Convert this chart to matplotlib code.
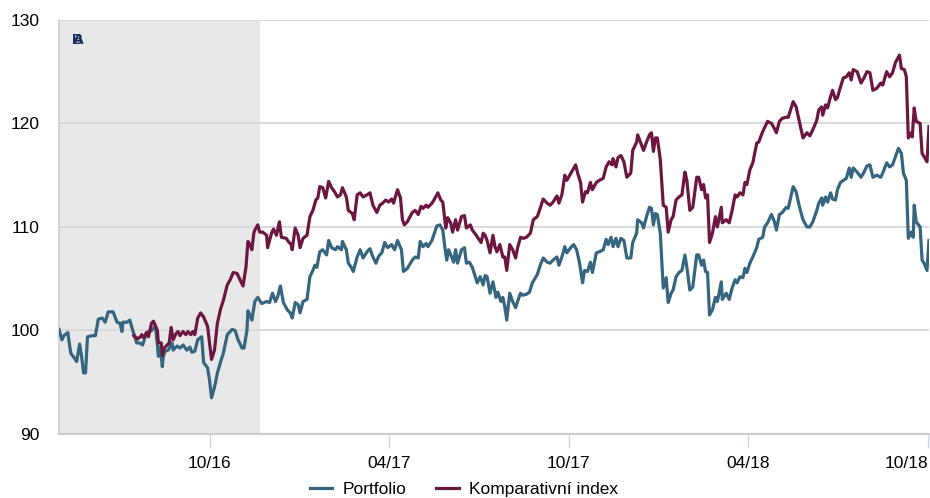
import matplotlib

matplotlib.use("Agg")
import matplotlib.dates as mdates
import matplotlib.pyplot as plt
import pandas as pd

# data: days since start date
start_date = "2016-05-01"
shade_end = "2016-11-21"
tick_dates = ["2016-10-01", "2017-04-01", "2017-10-01", "2018-04-01", "2018-10-01"]

portfolio_days = [
    0, 3, 5, 9, 12, 16, 18, 21, 23, 25, 27, 29, 34, 37, 40, 44, 47, 50, 55, 59,
    62, 64, 65, 69, 72, 75, 79, 82, 85, 89, 92, 94, 98, 100, 101, 103, 105, 106,
    108, 111, 115, 116, 120, 123, 126, 130, 133, 135, 138, 141, 145, 147, 151,
    153, 155, 158, 161, 164, 167, 171, 174, 176, 179, 182, 186, 188, 191, 192,
    194, 196, 199, 202, 206, 211, 214, 217, 220, 222, 225, 228, 232, 235, 237,
    240, 243, 245, 248, 252, 255, 258, 260, 262, 265, 268, 272, 274, 277, 281,
    283, 287, 288, 292, 294, 297, 299, 303, 306, 309, 313, 316, 319, 322, 325,
    328, 331, 334, 338, 341, 344, 348, 350, 354, 359, 362, 365, 367, 370, 373,
    375, 379, 380, 384, 387, 390, 392, 394, 396, 399, 401, 403, 405, 409, 412,
    414, 417, 420, 423, 425, 428, 431, 433, 435, 438, 441, 444, 446, 449, 451,
    453, 455, 458, 461, 464, 466, 469, 471, 475, 478, 481, 486, 489, 492, 496,
    499, 502, 506, 508, 511, 514, 516, 520, 523, 526, 529, 532, 534, 537, 540,
    542, 546, 549, 553, 556, 558, 561, 563, 566, 568, 571, 574, 577, 581, 583,
    587, 588, 592, 594, 597, 600, 602, 604, 606, 608, 611, 614, 617, 619, 622,
    624, 627, 630, 633, 636, 638, 641, 644, 648, 650, 653, 655, 657, 659, 661,
    664, 667, 669, 673, 674, 678, 681, 684, 687, 689, 692, 695, 697, 699, 702,
    705, 709, 711, 715, 717, 720, 724, 727, 729, 732, 735, 739, 741, 746, 749,
    752, 756, 760, 763, 766, 770, 772, 775, 776, 779, 781, 784, 786, 789, 791,
    794, 797, 800, 803, 805, 807, 811, 815, 818, 821, 824, 827, 831, 835, 837,
    841, 844, 847, 850, 853, 856, 858, 861, 863, 866, 868, 869, 871, 875, 877,
    879, 882, 884,
]
portfolio = [
    100.1, 99.1, 99.5, 99.8, 97.8, 97.3, 97.0, 98.7, 97.5, 95.9, 95.9, 99.4,
    99.5, 99.5, 101.1, 101.2, 100.8, 101.8, 101.8, 100.8, 100.7, 99.9, 100.8,
    100.8, 101.0, 100.0, 98.8, 98.8, 98.6, 99.8, 99.9, 100.0, 100.4, 98.6, 97.5,
    98.4, 96.5, 97.5, 98.0, 98.1, 98.8, 98.1, 98.5, 98.3, 98.6, 98.1, 98.4,
    97.9, 98.0, 99.1, 99.4, 96.9, 96.4, 95.2, 93.5, 94.5, 95.9, 96.9, 97.8,
    99.6, 99.9, 100.1, 100.0, 99.1, 98.3, 98.3, 100.0, 101.9, 101.5, 101.0,
    102.8, 103.2, 102.6, 102.8, 102.7, 103.6, 102.8, 103.2, 104.3, 102.7, 102.0,
    101.7, 101.2, 102.7, 102.5, 101.7, 102.8, 103.0, 105.2, 105.8, 106.3, 106.1,
    107.6, 107.8, 107.3, 108.7, 108.0, 107.8, 108.1, 107.8, 108.6, 107.8, 106.5,
    106.1, 105.7, 107.1, 107.8, 107.0, 107.6, 107.9, 107.1, 106.5, 107.2, 107.5,
    108.5, 108.0, 108.3, 107.8, 108.7, 107.8, 105.7, 106.0, 106.8, 107.1, 107.0,
    108.6, 108.1, 108.4, 108.1, 108.7, 109.0, 110.1, 110.2, 109.7, 108.1, 106.8,
    107.8, 107.1, 106.6, 107.8, 106.5, 107.8, 108.0, 106.5, 106.6, 106.1, 105.2,
    104.6, 105.2, 104.4, 105.3, 105.2, 103.6, 104.7, 103.2, 103.7, 102.8, 103.2,
    102.3, 101.0, 103.6, 102.8, 102.2, 102.8, 103.6, 103.4, 103.5, 103.7, 104.6,
    105.4, 106.3, 107.0, 106.6, 106.5, 106.8, 107.1, 106.3, 107.1, 108.1, 107.5,
    108.0, 108.3, 107.8, 106.5, 104.6, 105.8, 105.7, 106.6, 105.6, 107.5, 107.6,
    107.8, 108.8, 108.3, 109.0, 108.1, 108.9, 108.1, 108.9, 108.7, 107.0, 107.0,
    108.5, 109.4, 110.7, 110.4, 109.9, 111.0, 111.9, 111.8, 110.2, 111.3, 111.2,
    109.4, 104.1, 105.1, 102.7, 103.6, 103.9, 105.2, 105.6, 105.8, 107.3, 106.1,
    103.9, 104.2, 107.3, 107.3, 106.3, 106.8, 105.7, 105.6, 101.5, 102.0, 103.2,
    102.8, 104.7, 103.0, 103.6, 103.0, 104.1, 104.9, 104.6, 105.2, 105.1, 106.0,
    105.6, 106.5, 107.1, 108.0, 108.8, 109.0, 110.0, 110.4, 111.2, 110.5, 109.7,
    111.2, 111.4, 111.9, 111.8, 113.9, 113.4, 112.1, 110.7, 110.0, 110.0, 110.5,
    111.6, 112.3, 112.8, 112.1, 112.9, 112.4, 113.3, 112.7, 112.6, 113.6, 114.3,
    114.5, 114.7, 115.7, 114.8, 115.7, 115.3, 114.8, 115.3, 115.9, 116.0, 114.8,
    115.0, 114.8, 115.2, 116.2, 115.8, 116.0, 116.8, 117.6, 117.1, 115.2, 114.5,
    108.9, 109.5, 109.0, 112.1, 110.5, 110.0, 106.8, 106.5, 105.8, 108.7,
]

index_days = [
    76, 80, 83, 84, 86, 89, 91, 94, 96, 100, 101, 104, 105, 107, 110, 112, 114,
    116, 119, 121, 123, 126, 129, 131, 134, 136, 138, 141, 144, 147, 151, 153,
    155, 158, 161, 164, 167, 171, 174, 177, 181, 184, 187, 190, 192, 194, 196,
    198, 199, 202, 204, 207, 211, 212, 216, 218, 221, 224, 226, 231, 233, 236,
    237, 240, 243, 245, 248, 252, 255, 258, 261, 263, 265, 268, 271, 274, 277,
    280, 283, 286, 288, 292, 294, 298, 300, 303, 306, 309, 313, 316, 319, 323,
    326, 329, 332, 335, 338, 340, 344, 347, 349, 351, 354, 359, 362, 365, 368,
    370, 373, 375, 379, 381, 385, 388, 390, 393, 395, 398, 400, 403, 405, 409,
    412, 414, 418, 420, 424, 426, 429, 431, 433, 435, 438, 441, 443, 445, 448,
    451, 453, 455, 458, 461, 464, 466, 469, 472, 475, 479, 482, 486, 489, 492,
    496, 499, 502, 506, 508, 511, 514, 516, 519, 522, 525, 527, 530, 532, 535,
    537, 540, 542, 546, 549, 553, 556, 559, 562, 563, 566, 568, 571, 574, 577,
    581, 583, 587, 588, 592, 594, 597, 600, 602, 604, 606, 608, 611, 614, 617,
    619, 622, 624, 627, 630, 633, 636, 638, 641, 644, 648, 650, 653, 655, 657,
    659, 661, 664, 667, 669, 673, 674, 678, 681, 684, 687, 689, 692, 695, 697,
    699, 702, 705, 709, 711, 715, 717, 720, 724, 727, 729, 732, 735, 739, 741,
    746, 749, 752, 756, 760, 763, 766, 770, 772, 775, 776, 779, 781, 784, 786,
    789, 791, 794, 797, 800, 803, 805, 807, 811, 815, 818, 821, 824, 827, 831,
    835, 837, 841, 844, 847, 850, 854, 856, 859, 861, 863, 866, 867, 869, 871,
    875, 877, 879, 882, 884,
]
index = [
    99.5, 99.2, 99.4, 99.6, 99.3, 99.8, 99.4, 100.7, 100.9, 100.0, 98.8, 98.8,
    97.6, 98.3, 98.6, 98.8, 100.3, 99.1, 99.7, 99.9, 99.5, 99.9, 99.6, 99.9,
    99.6, 99.9, 99.6, 101.2, 101.7, 101.3, 100.4, 98.8, 97.2, 98.1, 100.7,
    102.0, 102.9, 104.4, 104.9, 105.6, 105.5, 104.9, 104.3, 106.1, 108.6, 108.3,
    107.8, 109.4, 109.7, 110.2, 109.5, 109.5, 109.2, 108.0, 109.4, 109.8, 109.2,
    110.5, 109.0, 108.9, 108.6, 108.3, 107.8, 109.9, 109.2, 108.0, 108.9, 109.2,
    111.0, 111.6, 112.6, 112.8, 113.9, 113.8, 112.8, 114.4, 113.8, 113.4, 112.9,
    113.1, 113.8, 112.9, 111.6, 111.3, 110.7, 113.1, 113.3, 112.9, 113.1, 113.3,
    112.1, 111.4, 112.1, 112.3, 112.6, 112.4, 112.7, 112.3, 113.6, 112.8, 110.7,
    110.2, 110.5, 111.4, 111.6, 111.2, 112.0, 111.8, 112.1, 111.9, 112.3, 112.6,
    113.3, 112.6, 112.4, 109.9, 110.9, 110.4, 109.5, 110.7, 109.7, 111.0, 111.1,
    109.9, 110.2, 109.7, 109.2, 108.9, 108.5, 109.4, 109.2, 108.7, 107.5, 109.2,
    108.1, 107.6, 108.3, 107.1, 107.1, 105.8, 108.3, 107.8, 107.0, 108.0, 109.0,
    108.9, 109.0, 109.4, 110.7, 111.0, 111.8, 112.7, 112.3, 112.1, 112.4, 113.0,
    112.3, 113.1, 115.0, 114.5, 115.0, 115.5, 116.0, 115.2, 114.3, 112.4, 113.4,
    113.3, 114.3, 113.6, 114.3, 114.5, 114.7, 115.8, 116.3, 116.0, 116.6, 115.8,
    116.7, 116.9, 116.3, 114.8, 115.2, 117.4, 118.2, 118.9, 117.9, 117.4, 118.2,
    118.9, 119.1, 117.3, 118.6, 118.6, 116.5, 112.1, 111.9, 109.5, 110.7, 111.0,
    112.6, 112.9, 113.1, 115.3, 114.5, 111.6, 111.9, 114.8, 114.8, 113.6, 114.1,
    112.8, 113.1, 108.5, 109.4, 111.0, 110.0, 111.9, 110.4, 110.7, 110.4, 111.6,
    113.1, 112.9, 113.3, 113.1, 114.3, 114.1, 115.5, 116.2, 118.1, 118.2, 119.2,
    119.6, 120.2, 120.0, 119.5, 119.1, 120.2, 120.5, 120.6, 120.6, 122.1, 121.6,
    120.3, 118.6, 119.1, 118.8, 119.4, 120.3, 121.3, 121.6, 120.8, 121.8, 121.5,
    122.6, 123.2, 122.3, 122.5, 123.5, 124.4, 124.5, 124.9, 124.2, 125.2, 125.0,
    123.9, 124.4, 125.0, 124.9, 123.2, 123.4, 123.9, 123.7, 125.0, 124.5, 124.9,
    125.9, 126.6, 125.3, 125.2, 124.5, 118.6, 119.1, 118.7, 121.5, 120.2, 120.0,
    117.1, 116.8, 116.3, 119.7,
]

start = pd.Timestamp(start_date)
portfolio_dates = start + pd.to_timedelta(portfolio_days, unit="D")
index_dates = start + pd.to_timedelta(index_days, unit="D")

plt.rcParams["font.family"] = ["Liberation Sans", "DejaVu Sans"]

fig = plt.figure(figsize=(9.3, 4.98), dpi=100)
ax = fig.add_axes([0.0634, 0.1285, 0.9355, 0.8315])

ax.axvspan(start, pd.Timestamp(shade_end), color="#e8e8e8", zorder=0, lw=0)
ax.plot(portfolio_dates, portfolio, color="#36667f", lw=2.3, label="Portfolio", zorder=3)
ax.plot(index_dates, index, color="#6c1740", lw=2.3, label="Komparativní index", zorder=4)

ax.set_xlim(start, start + pd.Timedelta(days=884))
ax.set_ylim(90, 130)
ax.set_yticks([90, 100, 110, 120, 130])
ax.set_xticks(pd.to_datetime(tick_dates))
ax.xaxis.set_major_formatter(mdates.DateFormatter("%m/%y"))

ax.grid(axis="y", color="#d8d8d8", lw=1.3, zorder=1)
ax.set_axisbelow(True)
for side in ["top", "right"]:
    ax.spines[side].set_visible(False)
ax.spines["bottom"].set_color("#cccccc")
ax.spines["bottom"].set_linewidth(1.5)
ax.spines["left"].set_color("#d0d0d0")
ax.spines["left"].set_linewidth(1.2)
ax.tick_params(axis="x", length=10, width=1, color="#ccd6eb", labelsize=12.5, pad=6)
ax.tick_params(axis="y", length=0, labelsize=12.5, pad=14)

# last date label is pulled inside the plot, like the original
fig.canvas.draw()
ax.get_xticklabels()[-1].set_horizontalalignment("right")

# A/B label in the shaded block
for letter in ["A", "B"]:
    ax.text(0.0155, 0.952, letter, transform=ax.transAxes, fontsize=11,
            fontweight="bold", color="#1b2a5c", va="center", ha="left")

fig.legend(*ax.get_legend_handles_labels(), loc="center", bbox_to_anchor=(0.499, 0.018),
           ncol=2, frameon=False, fontsize=12.5, handlelength=1.3, columnspacing=1.7,
           handletextpad=0.6)

fig.savefig("out.png", dpi=100)
